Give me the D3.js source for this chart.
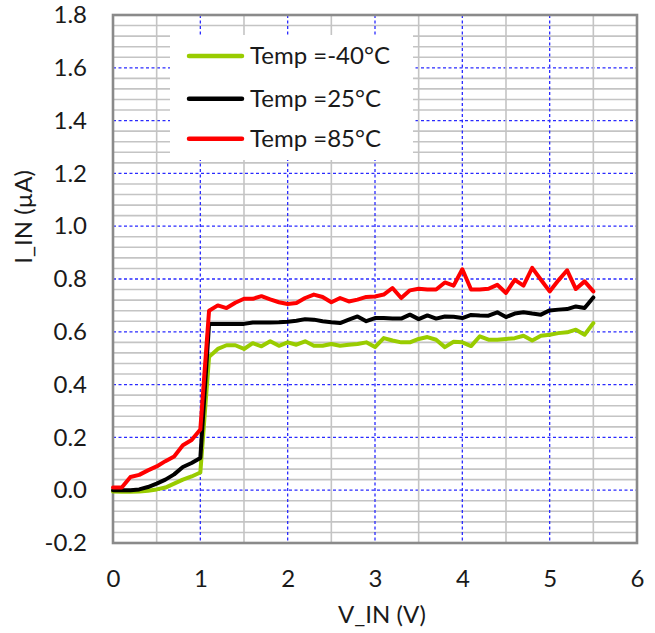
<!DOCTYPE html>
<html>
<head>
<meta charset="utf-8">
<script src="https://cdn.jsdelivr.net/npm/d3@7"></script>
<style>
  html, body { margin: 0; padding: 0; background: #fff; }
  svg { display: block; }
  text { font-family: Lato, "Open Sans", sans-serif; fill: #1a1a1a; }
</style>
</head>
<body>
<svg id="chart" width="655" height="633"></svg>
<script>
// ---- Data ----
const vin = [0.0,0.1,0.2,0.3,0.4,0.5,0.6,0.7,0.8,0.9,1.0,1.1,1.2,1.3,1.4,1.5,1.6,1.7,1.8,1.9,
             2.0,2.1,2.2,2.3,2.4,2.5,2.6,2.7,2.8,2.9,3.0,3.1,3.2,3.3,3.4,3.5,3.6,3.7,3.8,3.9,
             4.0,4.1,4.2,4.3,4.4,4.5,4.6,4.7,4.8,4.9,5.0,5.1,5.2,5.3,5.4,5.5];

const iinM40 = [-0.005,-0.006,-0.006,-0.005,-0.002,0.003,0.010,0.025,0.040,0.052,0.067,0.505,0.535,0.549,0.549,0.535,0.557,0.545,0.564,0.547,
                0.560,0.551,0.564,0.547,0.547,0.554,0.547,0.551,0.554,0.560,0.542,0.576,0.567,0.560,0.560,0.573,0.580,0.570,0.542,0.562,
                0.560,0.546,0.583,0.570,0.570,0.573,0.576,0.585,0.567,0.585,0.589,0.595,0.598,0.608,0.589,0.633];

const iin25 = [0.000,0.000,0.000,0.003,0.012,0.025,0.040,0.060,0.088,0.103,0.122,0.630,0.630,0.630,0.630,0.630,0.635,0.635,0.635,0.636,
               0.638,0.642,0.648,0.646,0.640,0.636,0.633,0.646,0.658,0.640,0.652,0.652,0.650,0.650,0.665,0.648,0.662,0.650,0.658,0.657,
               0.652,0.664,0.662,0.661,0.674,0.656,0.669,0.674,0.669,0.665,0.681,0.684,0.686,0.696,0.690,0.730];

const iin85 = [0.010,0.010,0.050,0.058,0.075,0.090,0.110,0.128,0.170,0.190,0.230,0.680,0.700,0.690,0.710,0.725,0.725,0.735,0.723,0.712,
               0.705,0.709,0.728,0.741,0.732,0.712,0.728,0.715,0.722,0.732,0.734,0.741,0.766,0.728,0.757,0.763,0.760,0.760,0.787,0.775,
               0.837,0.760,0.760,0.763,0.778,0.747,0.797,0.775,0.842,0.797,0.753,0.795,0.833,0.762,0.791,0.753];

const seriesNames  = ["Temp =-40\u00B0C", "Temp =25\u00B0C", "Temp =85\u00B0C"];
const seriesColors = ["#99cc00", "#000000", "#ff0000"];

const xTicks = [0, 1, 2, 3, 4, 5, 6];
const xTickLabels = ["0", "1", "2", "3", "4", "5", "6"];
const yTicks = [-0.2, 0.0, 0.2, 0.4, 0.6, 0.8, 1.0, 1.2, 1.4, 1.6, 1.8];
const yTickLabels = ["-0.2", "0.0", "0.2", "0.4", "0.6", "0.8", "1.0", "1.2", "1.4", "1.6", "1.8"];

const xTitle = "V_IN (V)";
const yTitle = "I_IN (\u00B5A)";

// ---- Layout ----
const svg = d3.select("#chart");
const L = 113, R = 637, T = 15, B = 543;

const x = d3.scaleLinear().domain([0, 6]).range([L, R]);
const y = d3.scaleLinear().domain([-0.2, 1.8]).range([B, T]);

svg.append("rect").attr("width", 655).attr("height", 633).attr("fill", "#fff");

const grid = svg.append("g");
// minor horizontal gridlines (every 0.04), major (every 0.2) blue dashed
d3.range(1, 50).forEach(i => {
  const v = -0.2 + i * 0.04;
  const major = i % 5 === 0;
  grid.append("line")
    .attr("x1", L).attr("x2", R)
    .attr("y1", y(v)).attr("y2", y(v))
    .attr("stroke", major ? "#2a2aff" : "#c4c4c4")
    .attr("stroke-width", major ? 1.3 : 1.6)
    .attr("stroke-dasharray", major ? "3,2.5" : null);
});
// vertical gridlines: gray at half-integers, blue dashed at integers
d3.range(1, 12).forEach(i => {
  const v = i * 0.5;
  const major = i % 2 === 0;
  grid.append("line")
    .attr("x1", x(v)).attr("x2", x(v))
    .attr("y1", T).attr("y2", B)
    .attr("stroke", major ? "#2a2aff" : "#c4c4c4")
    .attr("stroke-width", major ? 1.3 : 1.6)
    .attr("stroke-dasharray", major ? "3,2.5" : null);
});

// legend background (covers gridlines)
const legend = svg.append("g");
legend.append("rect")
  .attr("x", 170).attr("y", 35).attr("width", 243).attr("height", 125)
  .attr("fill", "#fff");

// plot border
svg.append("rect")
  .attr("x", L).attr("y", T).attr("width", R - L).attr("height", B - T)
  .attr("fill", "none").attr("stroke", "#8a8a8a").attr("stroke-width", 2.6);

// ---- Lines ----
const lineGen = d3.line()
  .x((d, i) => x(vin[i]))
  .y(d => y(d));

[iinM40, iin25, iin85].forEach((s, k) => {
  svg.append("path")
    .datum(s)
    .attr("d", lineGen)
    .attr("fill", "none")
    .attr("stroke", seriesColors[k])
    .attr("stroke-width", 4)
    .attr("stroke-linejoin", "round")
    .attr("stroke-linecap", "round");
});

// ---- Axes (labels only) ----
const yAxis = d3.axisLeft(y)
  .tickValues(yTicks)
  .tickFormat((d, i) => yTickLabels[i])
  .tickSize(0)
  .tickPadding(26);
const gy = svg.append("g").attr("transform", `translate(${L},0)`).call(yAxis);
gy.select(".domain").remove();
gy.selectAll("text").style("font-family", "Lato, 'Open Sans', sans-serif")
  .style("font-size", "24px").attr("fill", "#1a1a1a");

const xAxis = d3.axisBottom(x)
  .tickValues(xTicks)
  .tickFormat((d, i) => xTickLabels[i])
  .tickSize(0)
  .tickPadding(27);
const gx = svg.append("g").attr("transform", `translate(0,${B})`).call(xAxis);
gx.select(".domain").remove();
gx.selectAll("text").style("font-family", "Lato, 'Open Sans', sans-serif")
  .style("font-size", "24px").attr("fill", "#1a1a1a");

// axis titles
svg.append("text")
  .attr("x", 382).attr("y", 623)
  .attr("text-anchor", "middle")
  .style("font-size", "24px")
  .text(xTitle);

svg.append("text")
  .attr("transform", "translate(32,217) rotate(-90)")
  .attr("text-anchor", "middle")
  .style("font-size", "24px")
  .text(yTitle);

// ---- Legend ----
const legendY = [56, 98.7, 138.7];
seriesNames.forEach((name, k) => {
  legend.append("line")
    .attr("x1", 189).attr("x2", 242)
    .attr("y1", legendY[k]).attr("y2", legendY[k])
    .attr("stroke", seriesColors[k])
    .attr("stroke-width", 4.5)
    .attr("stroke-linecap", "round");
  legend.append("text")
    .attr("x", 250).attr("y", legendY[k])
    .attr("dy", "0.35em")
    .style("font-size", "24px")
    .text(name);
});
</script>
</body>
</html>
